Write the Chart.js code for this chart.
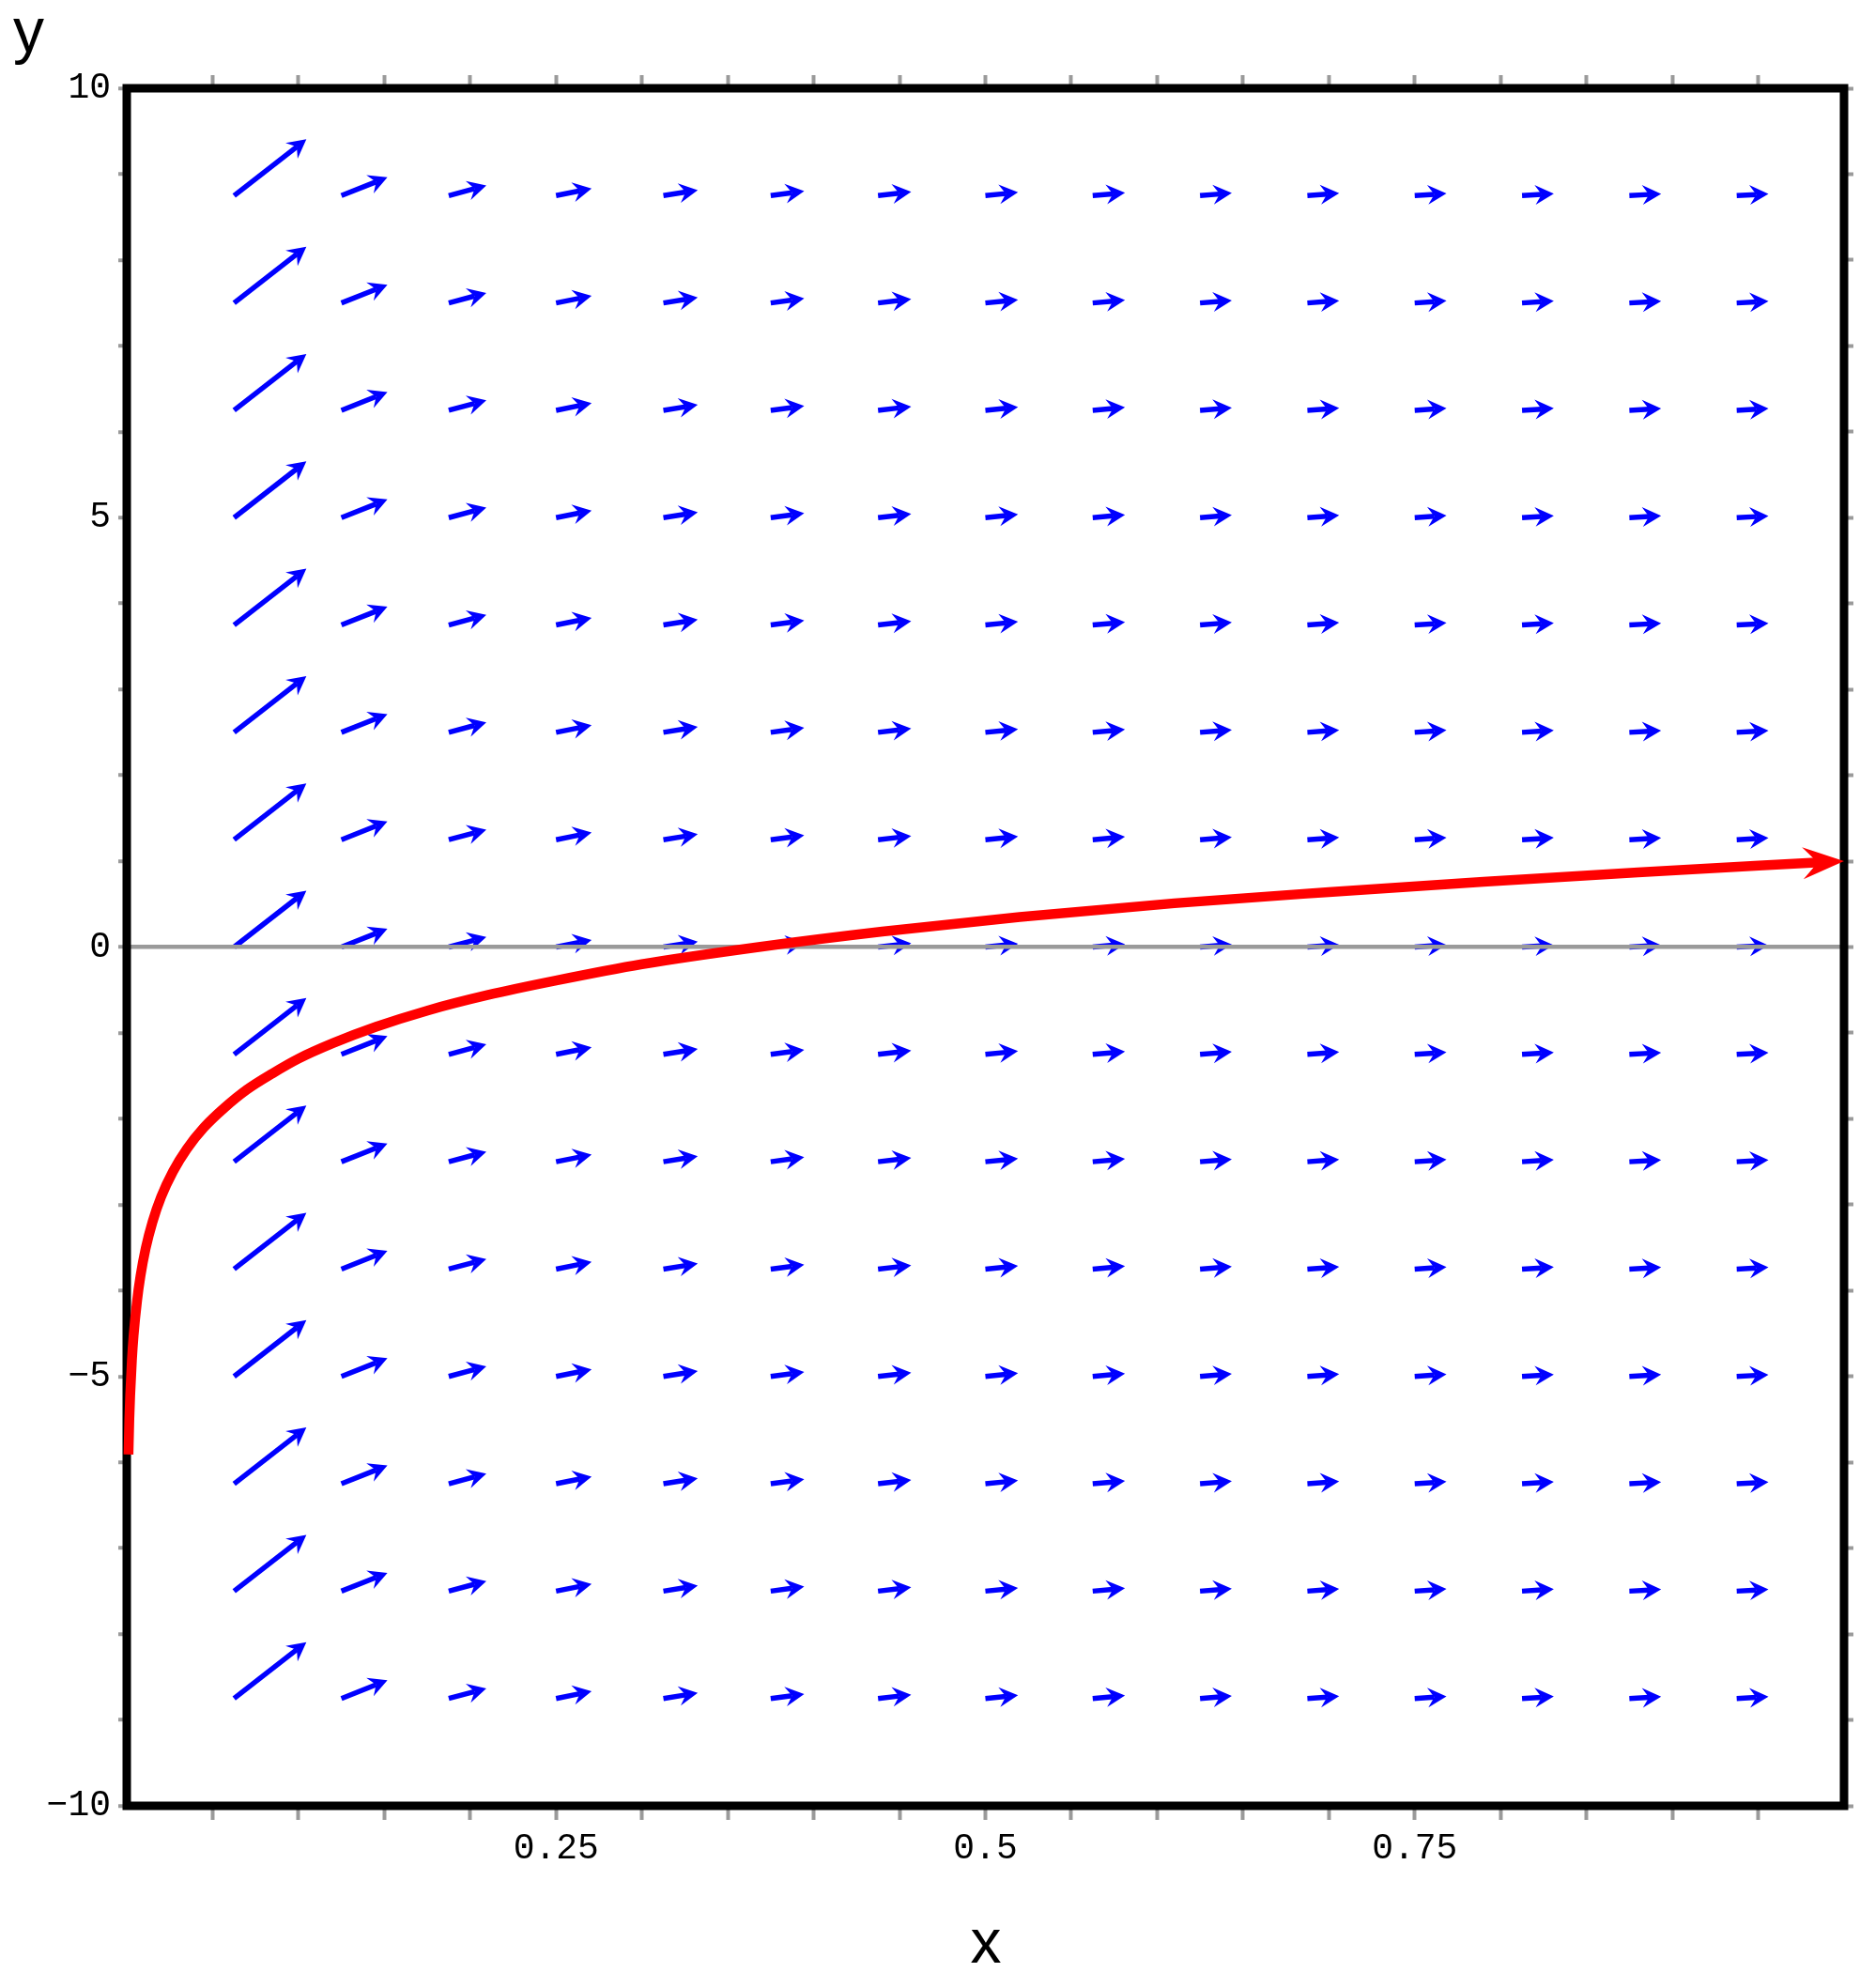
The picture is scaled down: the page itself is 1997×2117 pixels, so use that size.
<!DOCTYPE html>
<html>
<head>
<meta charset="utf-8">
<script src="https://cdn.jsdelivr.net/npm/chart.js@4/dist/chart.umd.min.js"></script>
<style>
  html, body { margin: 0; padding: 0; background: #fff; }
  #wrap { width: 1997px; height: 2117px; }
</style>
</head>
<body>
<div id="wrap"><canvas id="slopeField"></canvas></div>
<script>
// direction field grid (arrows are anchored at their tail)
const fieldX = [0.0625, 0.125, 0.1875, 0.25, 0.3125, 0.375, 0.4375, 0.5, 0.5625, 0.625, 0.6875, 0.75, 0.8125, 0.875, 0.9375];
const fieldY = [-8.75, -7.5, -6.25, -5, -3.75, -2.5, -1.25, 0, 1.25, 2.5, 3.75, 5, 6.25, 7.5, 8.75];
// arrow size per column, in data units
const arrowDx = [0.0421, 0.0268, 0.0219, 0.0207, 0.0200, 0.0195, 0.0193, 0.0190, 0.0188, 0.0185, 0.0185, 0.0185, 0.0185, 0.0185, 0.0185];
const arrowDy = [0.656, 0.213, 0.117, 0.083, 0.064, 0.052, 0.044, 0.038, 0.0335, 0.030, 0.027, 0.025, 0.023, 0.021, 0.020];

// solution curve
const curveX = [0.001, 0.0015, 0.002, 0.003, 0.004, 0.006, 0.008, 0.011, 0.015, 0.02, 0.027, 0.035, 0.045, 0.057, 0.07, 0.085, 0.1, 0.12, 0.145, 0.175, 0.21, 0.25, 0.3, 0.368, 0.44, 0.52, 0.61, 0.7, 0.79, 0.88, 0.986];
const curveY = [-5.91, -5.50, -5.22, -4.81, -4.52, -4.12, -3.83, -3.51, -3.20, -2.91, -2.61, -2.35, -2.10, -1.87, -1.66, -1.47, -1.30, -1.12, -0.93, -0.74, -0.56, -0.39, -0.20, 0.00, 0.18, 0.35, 0.51, 0.64, 0.76, 0.87, 0.986];
const curveTip = [1.0, 1.0];

// tick labels
const xLabels = ['0.25', '0.5', '0.75'];
const yLabels = ['-10', '-5', '0', '5', '10'];

const GRAY = '#9a9a9a';
const NONE = 'rgba(0,0,0,0)';
const tickFont = { family: 'Liberation Mono', size: 38 };

function xLabel(v) {
  const s = String(Math.round(v * 100) / 100);
  return xLabels.includes(s) ? s : '';
}
function yLabel(v) {
  const s = String(Math.round(v));
  return yLabels.includes(s) ? s.replace('-', '\u2212') : '';
}
function xTickColor(c) {
  if (!c.tick) return GRAY;
  return (c.tick.value < 0.001 || c.tick.value > 0.999) ? NONE : GRAY;
}

function head(ctx, tx, ty, ux, uy, len, half, notch) {
  const nx = -uy, ny = ux;
  ctx.beginPath();
  ctx.moveTo(tx, ty);
  ctx.lineTo(tx - ux * len + nx * half, ty - uy * len + ny * half);
  ctx.lineTo(tx - ux * notch, ty - uy * notch);
  ctx.lineTo(tx - ux * len - nx * half, ty - uy * len - ny * half);
  ctx.closePath();
  ctx.fill();
}

const fieldPlugin = {
  id: 'field',
  beforeDraw(chart) {
    const { ctx, scales: { x, y } } = chart;
    ctx.save();
    ctx.strokeStyle = '#0000ff';
    ctx.fillStyle = '#0000ff';
    ctx.lineWidth = 5.5;
    ctx.lineCap = 'butt';
    fieldX.forEach((fx, i) => {
      fieldY.forEach(fy => {
        const x0 = x.getPixelForValue(fx), y0 = y.getPixelForValue(fy);
        const x1 = x.getPixelForValue(fx + arrowDx[i]), y1 = y.getPixelForValue(fy + arrowDy[i]);
        const L = Math.hypot(x1 - x0, y1 - y0);
        const ux = (x1 - x0) / L, uy = (y1 - y0) / L;
        ctx.beginPath();
        ctx.moveTo(x0, y0);
        ctx.lineTo(x1 - ux * 13, y1 - uy * 13);
        ctx.stroke();
        head(ctx, x1, y1, ux, uy, 20, 10.5, 13);
      });
    });
    ctx.restore();
  },
  beforeDatasetsDraw(chart) {
    const { ctx, chartArea: a } = chart;
    ctx.save();
    ctx.strokeStyle = '#000';
    ctx.lineWidth = 9;
    ctx.strokeRect(a.left, a.top, a.right - a.left, a.bottom - a.top);
    ctx.restore();
  },
  afterDatasetsDraw(chart) {
    const { ctx, scales: { x, y } } = chart;
    const n = curveX.length - 1;
    const px = x.getPixelForValue(curveX[n]), py = y.getPixelForValue(curveY[n]);
    const tx = x.getPixelForValue(curveTip[0]), ty = y.getPixelForValue(curveTip[1]);
    const L = Math.hypot(tx - px, ty - py);
    ctx.save();
    ctx.fillStyle = '#ff0000';
    head(ctx, tx, ty, (tx - px) / L, (ty - py) / L, 44, 17, 28);
    ctx.fillStyle = '#000';
    ctx.font = '66px "Liberation Sans"';
    ctx.textAlign = 'left';
    ctx.textBaseline = 'alphabetic';
    ctx.fillText('y', 14, 55);
    ctx.textAlign = 'center';
    ctx.fillText('x', 1050, 2090);
    ctx.restore();
  }
};

const ctx = document.getElementById('slopeField').getContext('2d');

const slopeChart = new Chart(ctx, {
  type: 'scatter',
  data: {
    datasets: [{
      data: curveX.map((v, i) => ({ x: v, y: curveY[i] })),
      showLine: true,
      borderColor: '#ff0000',
      borderWidth: 10.5,
      borderCapStyle: 'butt',
      borderJoinStyle: 'round',
      cubicInterpolationMode: 'monotone',
      pointRadius: 0,
      clip: 30
    }]
  },
  options: {
    responsive: true,
    maintainAspectRatio: false,
    animation: false,
    events: [],
    layout: { padding: 0 },
    plugins: { legend: { display: false }, tooltip: { enabled: false } },
    scales: {
      x: {
        type: 'linear', position: 'bottom', min: 0, max: 1,
        afterFit: s => { s.height = 194; },
        border: { display: false },
        grid: { color: NONE, tickColor: xTickColor, tickLength: 15, tickWidth: 4 },
        ticks: { stepSize: 0.05, autoSkip: false, maxRotation: 0, minRotation: 0, padding: 8,
                 color: '#000', font: tickFont, callback: xLabel }
      },
      x2: {
        type: 'linear', position: 'top', min: 0, max: 1,
        afterFit: s => { s.height = 94; },
        border: { display: false },
        grid: { color: NONE, tickColor: xTickColor, tickLength: 14, tickWidth: 4, drawOnChartArea: false },
        ticks: { stepSize: 0.05, autoSkip: false, maxRotation: 0, minRotation: 0, callback: () => '' }
      },
      y: {
        type: 'linear', position: 'left', min: -10, max: 10,
        afterFit: s => { s.width = 135; },
        border: { display: false },
        grid: {
          color: c => (c.tick && c.tick.value === 0) ? GRAY : NONE,
          lineWidth: 4.5,
          tickColor: GRAY, tickLength: 9, tickWidth: 4
        },
        ticks: { stepSize: 1, autoSkip: false, padding: 8, color: '#000', font: tickFont, callback: yLabel }
      },
      y2: {
        type: 'linear', position: 'right', min: -10, max: 10,
        afterFit: s => { s.width = 33; },
        border: { display: false },
        grid: { color: NONE, tickColor: GRAY, tickLength: 10, tickWidth: 4, drawOnChartArea: false },
        ticks: { stepSize: 1, autoSkip: false, callback: () => '' }
      }
    }
  },
  plugins: [fieldPlugin]
});
</script>
</body>
</html>
